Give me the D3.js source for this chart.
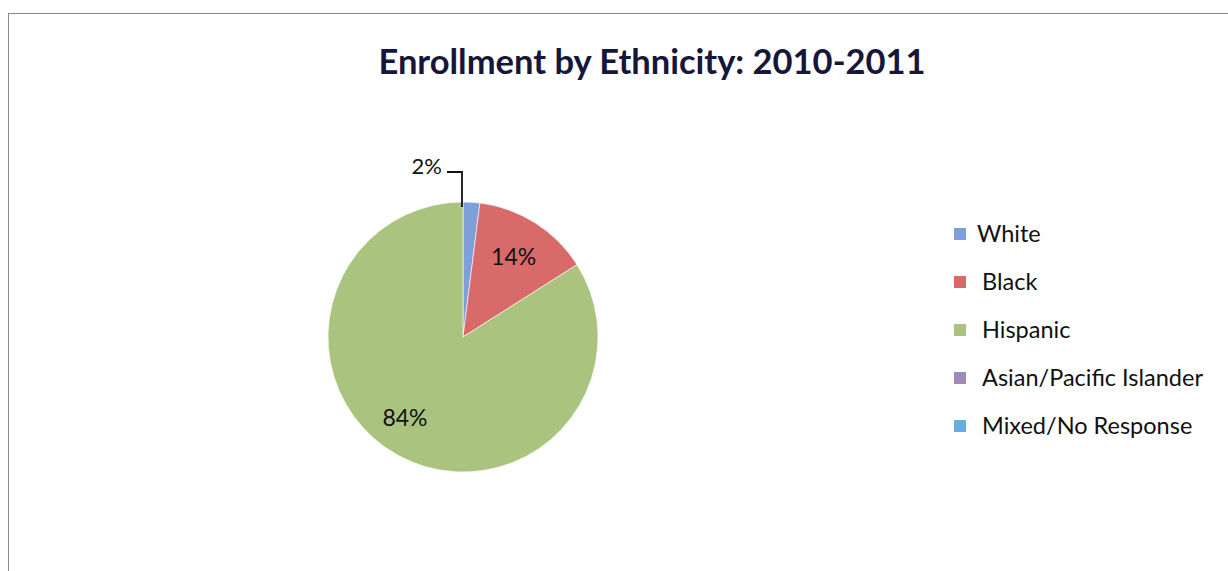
<!DOCTYPE html>
<html><head><meta charset="utf-8">
<script src="https://cdn.jsdelivr.net/npm/d3@7"></script>
<style>html,body{margin:0;padding:0;background:#fff;}</style>
</head><body>
<svg id="chart" width="1228" height="571"></svg>
<script>
const categories = ["White", "Black", "Hispanic", "Asian/Pacific Islander", "Mixed/No Response"];
const values = [2, 14, 84, 0, 0];
const colors = ["#7f9fdb", "#d86a6a", "#aac47f", "#a08ab8", "#6aaee0"];
const labels = ["2%", "14%", "84%", "", ""];
const title = "Enrollment by Ethnicity: 2010-2011";

const svg = d3.select("#chart");
const font = "Lato, 'Open Sans', sans-serif";

svg.append("rect").attr("x", 8.5).attr("y", 13.5).attr("width", 1240).attr("height", 600)
  .attr("fill", "#fff").attr("stroke", "#8a8a8a").attr("stroke-width", 1);

svg.append("text").attr("x", 652).attr("y", 74).attr("text-anchor", "middle")
  .attr("font-family", font).attr("font-weight", "bold").attr("font-size", 34.5)
  .attr("fill", "#16163a").text(title);

const cx = 463, cy = 337, r = 135;
const data = categories.map((c, i) => ({cat: c, value: values[i], color: colors[i], label: labels[i]}));
const pie = d3.pie().value(d => d.value).sort(null);
const arc = d3.arc().innerRadius(0).outerRadius(r);
const g = svg.append("g").attr("transform", `translate(${cx},${cy})`);
const arcs = pie(data);
g.selectAll("path").data(arcs.filter(a => a.data.value > 0)).join("path")
  .attr("d", arc).attr("fill", d => d.data.color).attr("stroke", "#fff").attr("stroke-width", 0.6);

// labels
const labelArc = d3.arc().innerRadius(r * 0.7).outerRadius(r * 0.7);
arcs.forEach((a, i) => {
  if (!a.data.value) return;
  if (a.data.value < 5) {
    const ky = -r - 30;
    const lineX = -1;
    g.append("path").attr("d", `M${lineX},${-r + 5} L${lineX},${ky} L${lineX - 15},${ky}`)
      .attr("fill", "none").attr("stroke", "#111").attr("stroke-width", 1.8);
    g.append("text").attr("x", lineX - 20).attr("y", ky - 6).attr("dy", "0.35em")
      .attr("text-anchor", "end").attr("font-family", font).attr("font-size", 22)
      .attr("fill", "#111").text(a.data.label);
  } else {
    let [lx, ly] = labelArc.centroid(a);
    if (a.data.value > 50) { lx = -58; ly = 81; }
    g.append("text").attr("x", lx).attr("y", ly).attr("dy", "0.35em")
      .attr("text-anchor", "middle").attr("font-family", font).attr("font-size", 23)
      .attr("fill", "#111").text(a.data.label);
  }
});

// legend
const lg = svg.append("g").attr("transform", "translate(954,234)");
const row = lg.selectAll("g").data(data).join("g").attr("transform", (d, i) => `translate(0,${i * 48})`);
row.append("rect").attr("x", 0).attr("y", -6).attr("width", 12).attr("height", 12).attr("fill", d => d.color);
row.append("text").attr("x", (d, i) => i === 0 ? 23 : 28).attr("y", 0).attr("dy", "0.35em")
  .attr("font-family", font).attr("font-size", 23.5).attr("fill", "#111").text(d => d.cat);
</script>
</body></html>
